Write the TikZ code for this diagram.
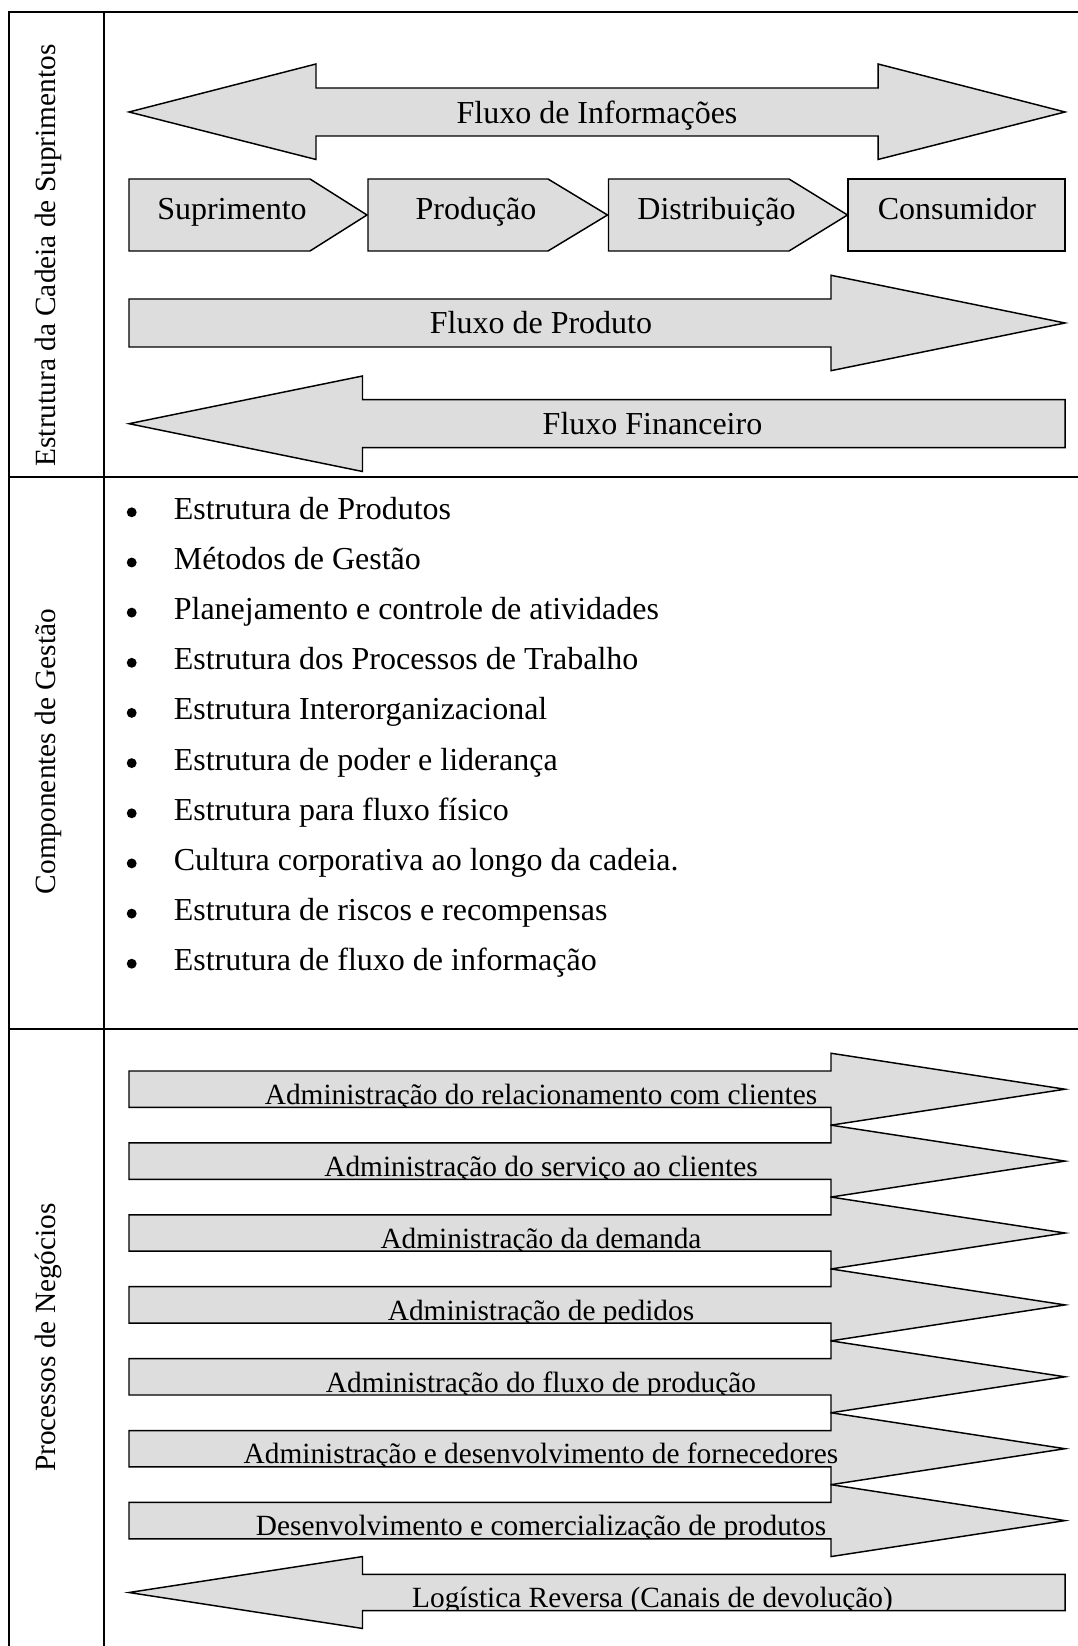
\documentclass[tikz,border=0pt]{standalone}
\usepackage{fontspec}
\setmainfont{Liberation Serif}
\definecolor{flowgray}{RGB}{221,221,221}

\begin{document}
\begin{tikzpicture}[x=0.375pt, y=-0.375pt,
  flowshape/.style={draw, fill=flowgray, line width=0.55pt},
  gridline/.style={line width=0.75pt},
  sidelabel/.style={rotate=90, anchor=base, inner sep=0pt, font=\fontsize{11}{13}\selectfont},
  flowtext/.style={anchor=base, inner sep=0pt, font=\fontsize{12}{14}\selectfont},
  itemtext/.style={anchor=base west, inner sep=0pt, font=\fontsize{12}{14}\selectfont},
  proctext/.style={anchor=base, inner sep=0pt, font=\fontsize{11}{13}\selectfont}]
\useasboundingbox (0,0) rectangle (1077,1646);

% table
\draw[gridline] (8.5,1650) -- (8.5,12.3) -- (1080,12.3);
\draw[gridline] (104,12.3) -- (104,1650);
\draw[gridline] (8.5,476.8) -- (1080,476.8);
\draw[gridline] (8.5,1028.5) -- (1080,1028.5);
\node[sidelabel] (lblchain) at (55,255.5) {Estrutura da Cadeia de Suprimentos};
\node[sidelabel] (lblmgmt) at (55,751.5) {Componentes de Gestão};
\node[sidelabel] (lblproc) at (55,1337.5) {Processos de Negócios};

% estrutura da cadeia
\draw[flowshape] (129,112) -- (316,64) -- (316,88) -- (878,88) -- (878,64) -- (1065,112)
  -- (878,159.5) -- (878,136) -- (316,136) -- (316,159.5) -- cycle;
\node[flowtext] (info) at (597,124) {Fluxo de Informações};

\draw[flowshape] (129,179) -- (310,179) -- (367,215) -- (310,251) -- (129,251) -- cycle;
\draw[flowshape] (368,179) -- (548,179) -- (607.5,215) -- (548,251) -- (368,251) -- cycle;
\draw[flowshape] (608.5,179) -- (789,179) -- (847.5,215) -- (789,251) -- (608.5,251) -- cycle;
\draw[flowshape] (848,179) rectangle (1065,251);
\node[flowtext] (supr) at (232,220) {Suprimento};
\node[flowtext] (prod) at (476,220) {Produção};
\node[flowtext] (dist) at (716.5,220) {Distribuição};
\node[flowtext] (cons) at (957,220) {Consumidor};

\draw[flowshape] (129,299) -- (831,299) -- (831,275.3) -- (1065,323) -- (831,370.7) -- (831,347) -- (129,347) -- cycle;
\node[flowtext] (product) at (541,334) {Fluxo de Produto};

\draw[flowshape] (129,423.7) -- (362.5,376) -- (362.5,399.7) -- (1065,399.7) -- (1065,447.7) -- (362.5,447.7) -- (362.5,471.5) -- cycle;
\node[flowtext] (finance) at (652.5,435) {Fluxo Financeiro};

% componentes de gestao
\fill (131.7,512.3) circle (1.85pt);
\fill (131.7,562.5) circle (1.85pt);
\fill (131.7,612.6) circle (1.85pt);
\fill (131.7,662.8) circle (1.85pt);
\fill (131.7,712.9) circle (1.85pt);
\fill (131.7,763.1) circle (1.85pt);
\fill (131.7,813.3) circle (1.85pt);
\fill (131.7,863.4) circle (1.85pt);
\fill (131.7,913.6) circle (1.85pt);
\fill (131.7,963.7) circle (1.85pt);
\node[itemtext] (item1) at (173.3,519.3) {Estrutura de Produtos};
\node[itemtext] (item2) at (173.3,569.5) {Métodos de Gestão};
\node[itemtext] (item3) at (173.3,619.6) {Planejamento e controle de atividades};
\node[itemtext] (item4) at (173.3,669.8) {Estrutura dos Processos de Trabalho};
\node[itemtext] (item5) at (173.3,719.9) {Estrutura Interorganizacional};
\node[itemtext] (item6) at (173.3,770.1) {Estrutura de poder e liderança};
\node[itemtext] (item7) at (173.3,820.3) {Estrutura para fluxo físico};
\node[itemtext] (item8) at (173.3,870.4) {Cultura corporativa ao longo da cadeia.};
\node[itemtext] (item9) at (173.3,920.6) {Estrutura de riscos e recompensas};
\node[itemtext] (item10) at (173.3,970.7) {Estrutura de fluxo de informação};

% processos de negocios
\draw[flowshape] (129,1071) -- (831,1071) -- (831,1053.25) -- (1065,1089.2) -- (831,1125.15) -- (831,1107.4) -- (129,1107.4) -- cycle;
\draw[flowshape] (129,1142.9) -- (831,1142.9) -- (831,1125.15) -- (1065,1161.1) -- (831,1197.05) -- (831,1179.3) -- (129,1179.3) -- cycle;
\draw[flowshape] (129,1214.8) -- (831,1214.8) -- (831,1197.05) -- (1065,1233) -- (831,1268.95) -- (831,1251.2) -- (129,1251.2) -- cycle;
\draw[flowshape] (129,1286.7) -- (831,1286.7) -- (831,1268.95) -- (1065,1304.9) -- (831,1340.85) -- (831,1323.1) -- (129,1323.1) -- cycle;
\draw[flowshape] (129,1358.6) -- (831,1358.6) -- (831,1340.85) -- (1065,1376.8) -- (831,1412.75) -- (831,1395) -- (129,1395) -- cycle;
\draw[flowshape] (129,1430.5) -- (831,1430.5) -- (831,1412.75) -- (1065,1448.7) -- (831,1484.65) -- (831,1466.9) -- (129,1466.9) -- cycle;
\draw[flowshape] (129,1502.4) -- (831,1502.4) -- (831,1484.65) -- (1065,1520.6) -- (831,1556.55) -- (831,1538.8) -- (129,1538.8) -- cycle;
\draw[flowshape] (129,1592.5) -- (362.5,1556.55) -- (362.5,1574.3) -- (1065,1574.3) -- (1065,1610.7) -- (362.5,1610.7) -- (362.5,1628.45) -- cycle;

\begin{scope}
\clip (130,1072) rectangle (1000,1106.4);
\node[proctext] (proc1) at (541,1104.4) {Administração do relacionamento com clientes};
\end{scope}
\begin{scope}
\clip (130,1143.9) rectangle (1000,1178.3);
\node[proctext] (proc2) at (541,1176.3) {Administração do serviço ao clientes};
\end{scope}
\begin{scope}
\clip (130,1215.8) rectangle (1000,1250.2);
\node[proctext] (proc3) at (541,1248.2) {Administração da demanda};
\end{scope}
\begin{scope}
\clip (130,1287.7) rectangle (1000,1322.1);
\node[proctext] (proc4) at (541,1320.1) {Administração de pedidos};
\end{scope}
\begin{scope}
\clip (130,1359.6) rectangle (1000,1394);
\node[proctext] (proc5) at (541,1392) {Administração do fluxo de produção};
\end{scope}
\begin{scope}
\clip (130,1431.5) rectangle (1000,1465.9);
\node[proctext] (proc6) at (541,1463.9) {Administração e desenvolvimento de fornecedores};
\end{scope}
\begin{scope}
\clip (130,1503.4) rectangle (1000,1537.8);
\node[proctext] (proc7) at (541,1535.8) {Desenvolvimento e comercialização de produtos};
\end{scope}
\begin{scope}
\clip (363.5,1575.3) rectangle (1064,1609.7);
\node[proctext] (reverse) at (652.5,1607.7) {Logística Reversa (Canais de devolução)};
\end{scope}
\end{tikzpicture}
\end{document}
